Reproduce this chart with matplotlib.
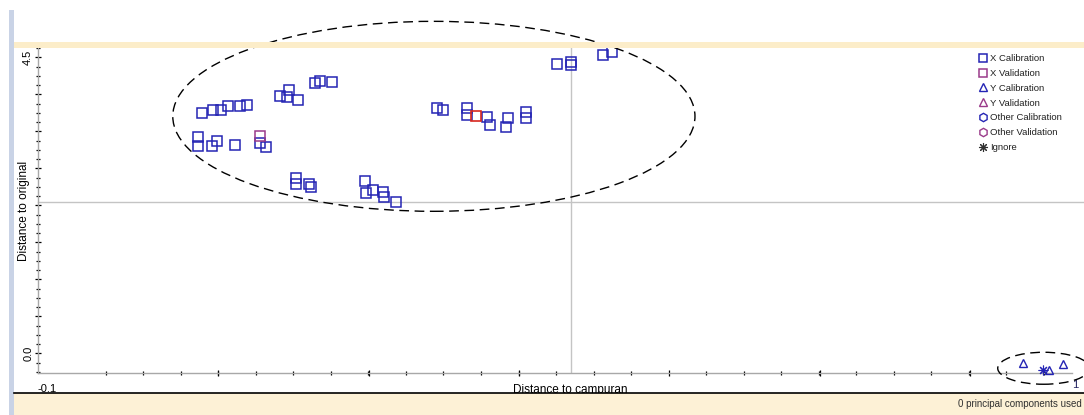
import numpy as np
import matplotlib
matplotlib.use("Agg")
import matplotlib.pyplot as plt
from matplotlib.patches import Ellipse, Rectangle
from matplotlib.lines import Line2D

plt.rcParams['font.family'] = ['Liberation Sans', 'DejaVu Sans']

# ------------------------------------------------------------
# Data
# ------------------------------------------------------------
# X Calibration samples (blue squares)
xcal_x = [0.074, 0.086, 0.094, 0.102, 0.114, 0.122, 0.157, 0.164, 0.166, 0.176,
          0.194, 0.199, 0.212, 0.070, 0.070, 0.085, 0.090, 0.109, 0.136, 0.142,
          0.174, 0.174, 0.187, 0.190, 0.247, 0.248, 0.255, 0.266, 0.267, 0.280,
          0.451, 0.466, 0.466, 0.499, 0.509, 0.323, 0.330, 0.355, 0.355, 0.376,
          0.380, 0.396, 0.399, 0.418, 0.418]
xcal_y = [3.647, 3.693, 3.693, 3.754, 3.754, 3.769, 3.906, 3.891, 3.997, 3.845,
          4.103, 4.134, 4.119, 3.283, 3.146, 3.146, 3.222, 3.161, 3.191, 3.131,
          2.660, 2.568, 2.568, 2.523, 2.614, 2.432, 2.477, 2.447, 2.371, 2.295,
          4.392, 4.422, 4.377, 4.529, 4.574, 3.723, 3.693, 3.723, 3.617, 3.587,
          3.465, 3.435, 3.571, 3.663, 3.571]

# X Validation samples
xval_x = [0.136]
xval_y = [3.298]
xval_hi_x = [0.365]   # the red one
xval_hi_y = [3.602]

# Y Calibration samples (triangles) and ignored sample
ycal_x = [0.945, 0.987, 0.973]
ycal_y = [-0.152, -0.167, -0.258]
ign_x = [0.966]
ign_y = [-0.258]

# critical limits (grey lines)
x_limit = 0.466
y_limit = 2.295

# ellipses: (cx, cy, width, height)
ell_main = (0.320, 3.602, 0.554, 2.888)
ell_small = (0.967, -0.228, 0.0976, 0.486)

legend_labels = ["X Calibration", "X Validation", "Y Calibration", "Y Validation",
                 "Other Calibration", "Other Validation", "Ignore"]

BLUE = '#2424b4'
PURPLE = '#9a3a8a'
RED = '#d8281e'
STAR = (8, 2, 0)   # asterisk marker used for "Ignore"

# ------------------------------------------------------------
# Figure
# ------------------------------------------------------------
W, H = 1084, 415
fig = plt.figure(figsize=(W / 100, H / 100), dpi=100)
fig.patch.set_facecolor('white')

# window decorations (bands)
fig.patches.append(Rectangle((9 / W, 0), 5 / W, 1 - 10 / H, transform=fig.transFigure,
                             facecolor='#c9d3e6', edgecolor='none', zorder=0))
fig.patches.append(Rectangle((14 / W, 1 - 48 / H), 1, 6 / H, transform=fig.transFigure,
                             facecolor='#fcedc9', edgecolor='none', zorder=0))
fig.patches.append(Rectangle((14 / W, 0), 1, 22 / H, transform=fig.transFigure,
                             facecolor='#fdf1d6', edgecolor='none', zorder=0))
fig.lines.append(Line2D([14 / W, 1], [22 / H, 22 / H], transform=fig.transFigure,
                        color='black', lw=1.2))

ax = fig.add_axes([38 / W, (H - 373) / H, (1072 - 38) / W, (373 - 48) / H])
ax.set_facecolor('none')
ax.set_xlim(-0.1, 0.997)
ax.set_ylim(-0.30, 4.64)

for s in ['top', 'right']:
    ax.spines[s].set_visible(False)
for s in ['left', 'bottom']:
    ax.spines[s].set_color('#a8a8a8')
    ax.spines[s].set_linewidth(1.0)

# grey limit lines
ax.axvline(x_limit, color='#c4c4c4', lw=1.0, zorder=1)
ax.axhline(y_limit, color='#c4c4c4', lw=1.0, zorder=1, clip_on=False,
           xmax=1.012)

# points
ax.plot(xcal_x, xcal_y, 's', ms=6.5, mfc='none', mec=BLUE, mew=1.1, zorder=3)
ax.plot(xval_x, xval_y, 's', ms=6.5, mfc='none', mec=PURPLE, mew=1.1, zorder=3)
ax.plot(xval_hi_x, xval_hi_y, 's', ms=6.5, mfc='none', mec=RED, mew=1.2, zorder=4)
ax.plot(ycal_x, ycal_y, '^', ms=6, mfc='none', mec=BLUE, mew=1.0, zorder=3, clip_on=False)
ax.plot(ign_x, ign_y, marker=STAR, ms=7, mec=BLUE, mew=0.8, ls='none', zorder=3, clip_on=False)

# ellipses
for cx, cy, w, h in [ell_main, ell_small]:
    e = Ellipse((cx, cy), w, h, fill=False, edgecolor='black', lw=1.0,
                linestyle=(0, (7, 4)), clip_on=False, zorder=5)
    ax.add_patch(e)

# ticks
ystep = 4.5 / 32
ax.set_yticks(np.arange(0, 9) * 4 * ystep)
ax.set_yticklabels(['0.0'] + [''] * 7 + ['4.5'], rotation=90, va='center', fontsize=8)
ax.set_yticks(np.arange(-2, 34) * ystep, minor=True)
ax.tick_params(axis='y', which='major', direction='inout', length=5, width=0.9, color='black', pad=1)
ax.tick_params(axis='y', which='minor', direction='inout', length=3, width=0.9, color='black')

ax.set_xticks([0.091, 0.251, 0.410, 0.569, 0.730, 0.889])
ax.set_xticklabels([])
ax.set_xticks(np.arange(-0.028, 0.99, 0.0398), minor=True)
ax.tick_params(axis='x', which='major', direction='inout', length=5, width=0.9, color='black')
ax.tick_params(axis='x', which='minor', direction='inout', length=3, width=0.9, color='black')

ax.text(0.0, -0.035, '-0.1', transform=ax.transAxes, fontsize=8, ha='left', va='top')
ax.text(1.0, -0.02, '1', transform=ax.transAxes, fontsize=8, ha='left', va='top', color='#202060')

ax.set_xlabel('Distance to campuran', fontsize=8.5, labelpad=1)
ax.xaxis.set_label_coords(0.515, -0.035)
ax.xaxis.label.set_va('top')
ax.set_ylabel('Distance to original', fontsize=8.5, labelpad=2)
ax.yaxis.set_label_coords(-0.0075, 0.50)

# legend
handles = [
    Line2D([], [], marker='s', ls='none', mfc='none', mec=BLUE, ms=6, mew=1.1),
    Line2D([], [], marker='s', ls='none', mfc='none', mec=PURPLE, ms=6, mew=1.1),
    Line2D([], [], marker='^', ls='none', mfc='none', mec=BLUE, ms=6, mew=1.0),
    Line2D([], [], marker='^', ls='none', mfc='none', mec=PURPLE, ms=6, mew=1.0),
    Line2D([], [], marker='h', ls='none', mfc='none', mec=BLUE, ms=6, mew=1.0),
    Line2D([], [], marker='h', ls='none', mfc='none', mec=PURPLE, ms=6, mew=1.0),
    Line2D([], [], marker=STAR, ls='none', mec='#303030', ms=6.5, mew=0.8),
]
ax.legend(handles, legend_labels, loc='upper left', bbox_to_anchor=(979 / W, 1 - 54 / H),
          bbox_transform=fig.transFigure, frameon=False, fontsize=6.8,
          handlelength=0.8, handletextpad=0.35, labelspacing=0.62, borderpad=0,
          borderaxespad=0, labelcolor='#202020')

fig.text(958 / W, 11 / H, '0 principal components used', fontsize=7, ha='left',
         va='center', color='#303030')

fig.savefig('out.png', dpi=100)
